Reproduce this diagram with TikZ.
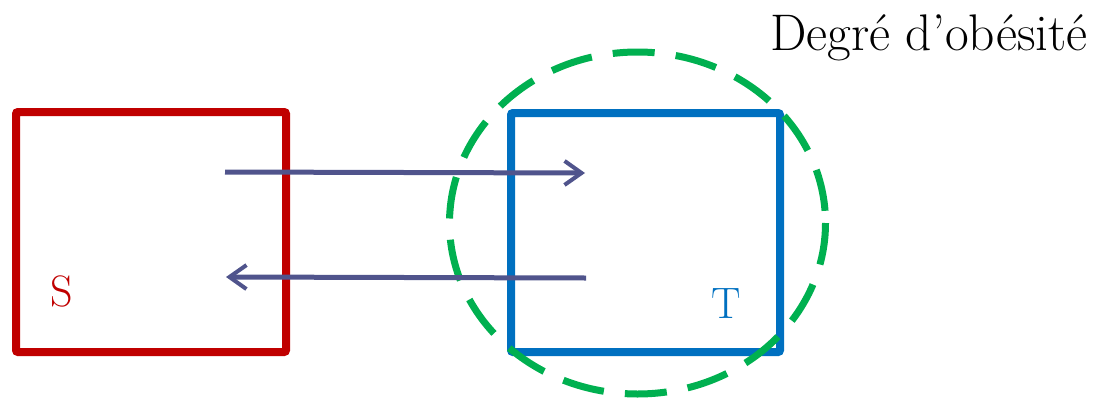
\documentclass[tikz,border=0pt]{standalone}
\usepackage{fontspec}
\usetikzlibrary{arrows.meta}
\definecolor{sred}{RGB}{192,0,0}
\definecolor{tblue}{RGB}{0,112,192}
\definecolor{ogreen}{RGB}{0,176,80}
\definecolor{arr}{RGB}{80,84,140}
\begin{document}
\begin{tikzpicture}[x=1pt,y=-1pt,
  boxS/.style={draw=sred,line width=8pt,rounded corners=2pt},
  boxT/.style={draw=tblue,line width=8pt,rounded corners=2pt},
  link/.style={draw=arr,line width=5pt,-{Straight Barb[length=17pt,width=24pt,line width=4pt]}}]
\useasboundingbox (0,0) rectangle (1102,399);
\draw[boxS] (16,112) rectangle (286,352);
\draw[boxT] (511,113) rectangle (780,352);
\draw[draw=ogreen,line width=7pt,dash pattern=on 42pt off 21.2pt] (637.5,223) ellipse [x radius=188,y radius=171];
\node[text=sred,font=\fontsize{44}{44}\selectfont,anchor=base] (s) at (62,306) {S};
\node[text=tblue,font=\fontsize{44}{44}\selectfont,anchor=base] (t) at (726,318) {T};
\node[font=\fontsize{51.5}{52}\selectfont,anchor=base west,inner sep=0pt] (lbl) at (770,50) {Degré d’obésité};
\coordinate (a1) at (225,172);
\coordinate (a2) at (585,173);
\coordinate (b1) at (586,278);
\coordinate (b2) at (226,277);
\draw[link] (a1) -- (a2);
\draw[link] (b1) -- (b2);
\end{tikzpicture}
\end{document}
